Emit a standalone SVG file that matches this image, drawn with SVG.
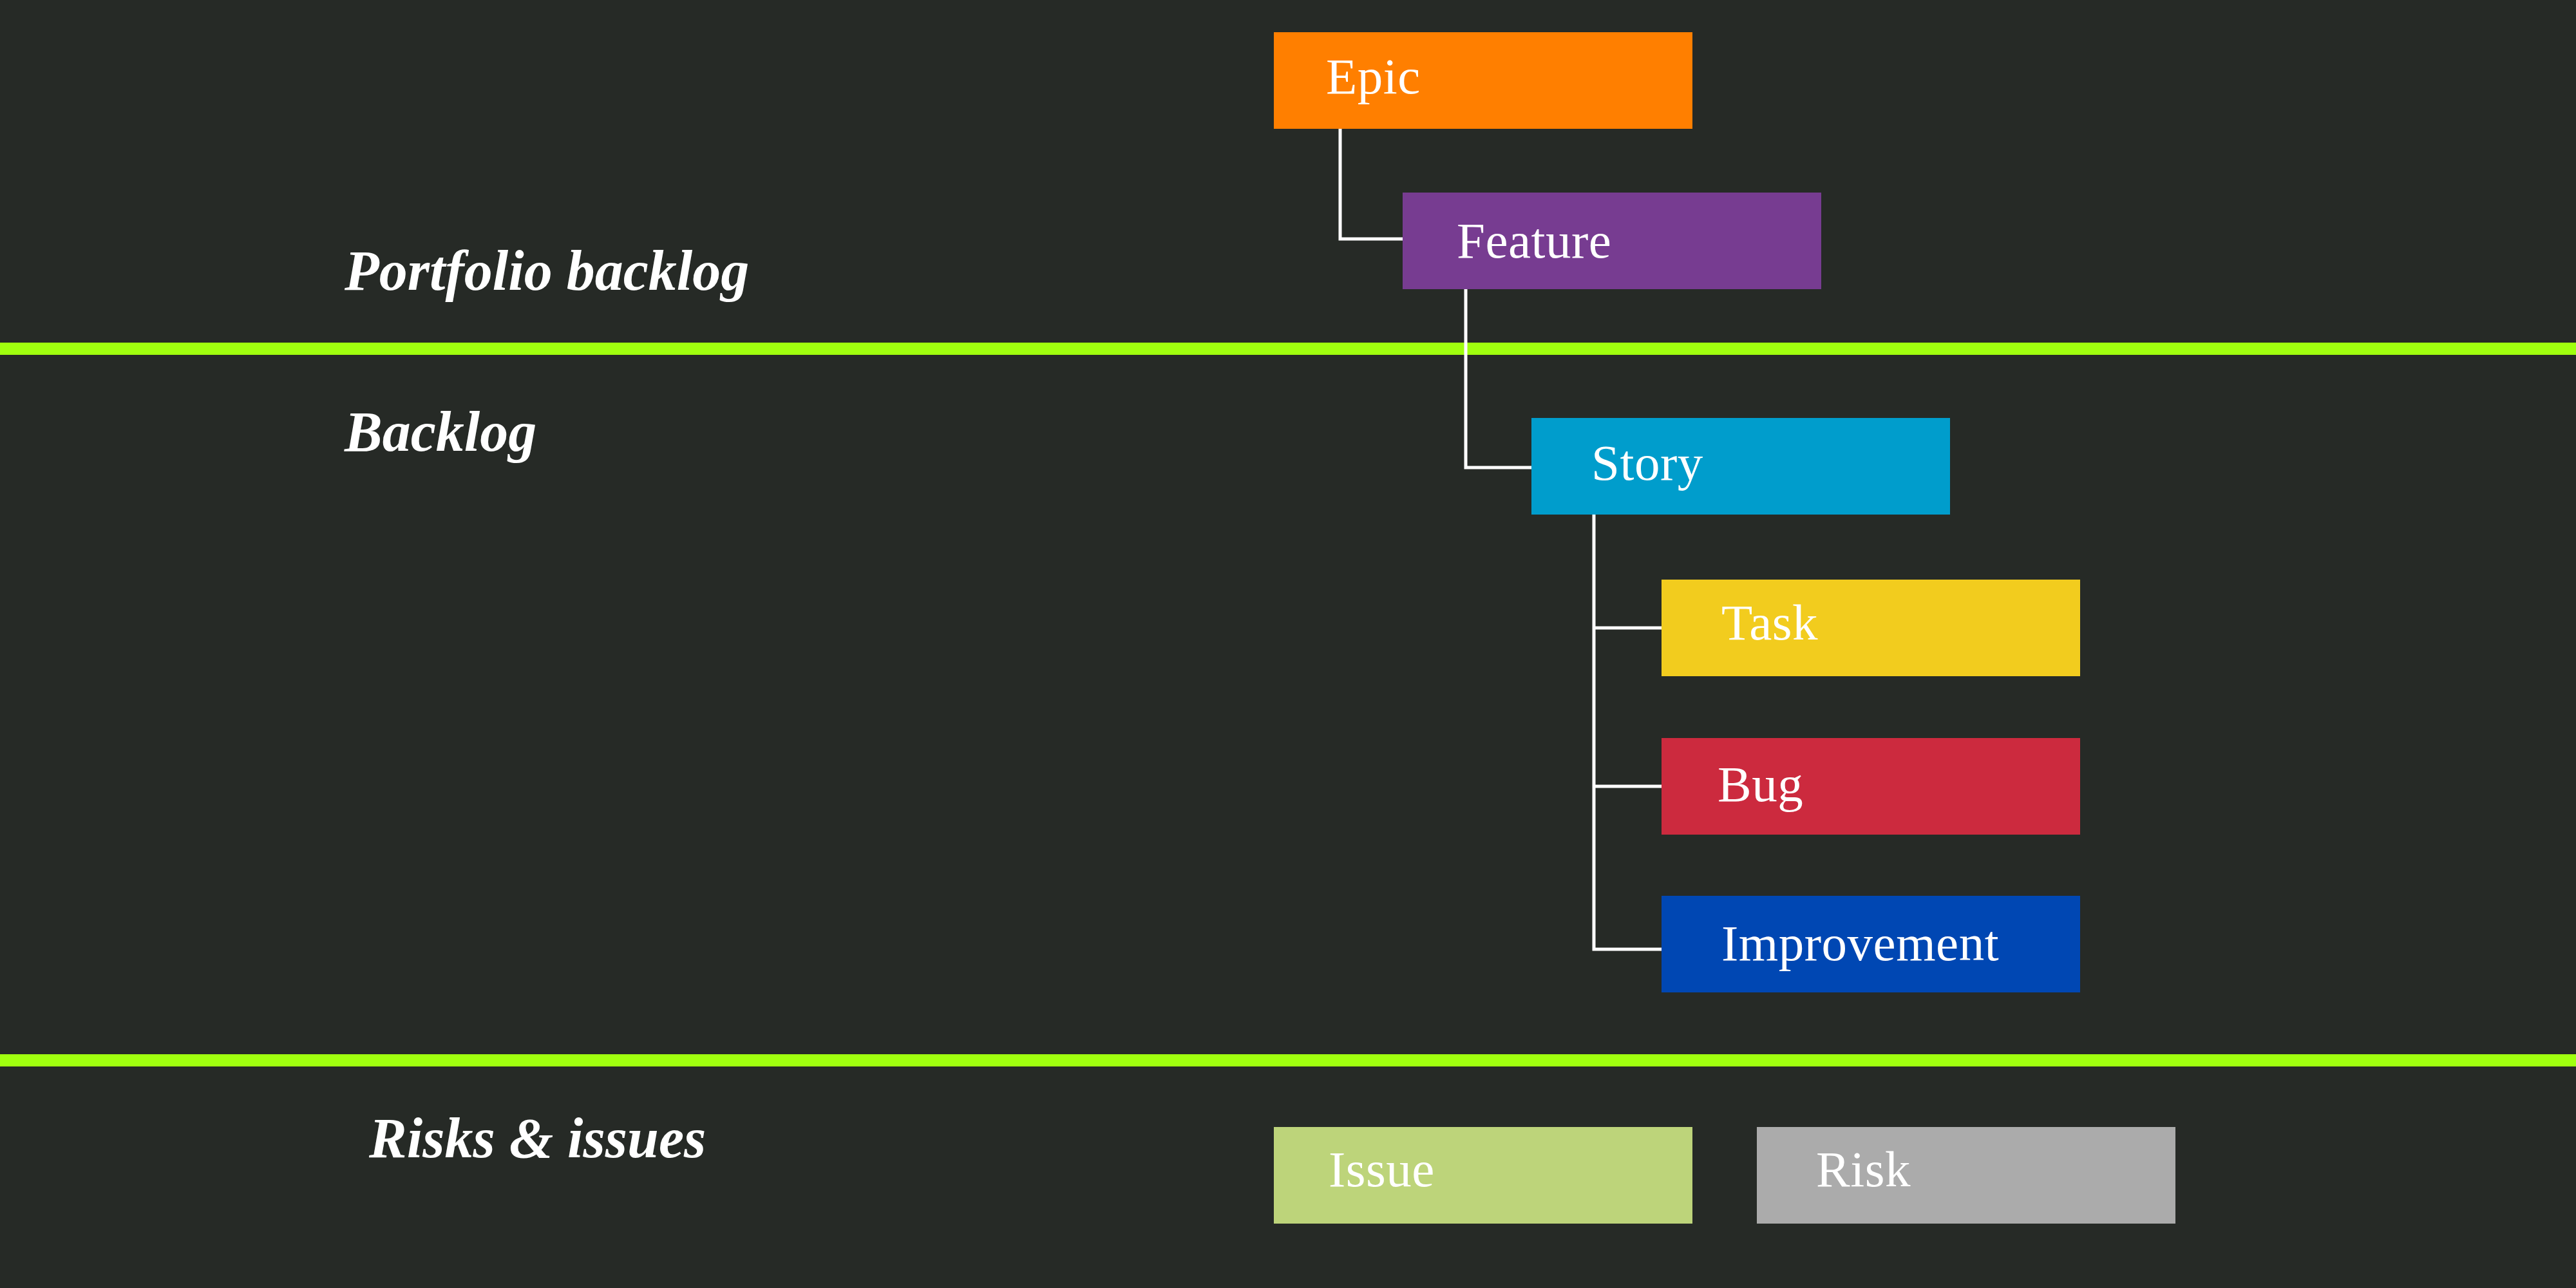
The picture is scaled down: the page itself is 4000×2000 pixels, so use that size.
<svg xmlns="http://www.w3.org/2000/svg" width="4000" height="2000" viewBox="0 0 4000 2000">
<style>
.bg{fill:#262a26}
.band{fill:#a0ff0f}
.lane{font-family:"Liberation Serif","DejaVu Serif",serif;font-style:italic;font-weight:bold;font-size:88px;fill:#ffffff}
.lbl{font-family:"Liberation Serif","DejaVu Serif",serif;font-size:79px;fill:#ffffff;letter-spacing:0.5px}
.conn{fill:none;stroke:#ffffff;stroke-width:5}
</style>
<rect class="bg" x="0" y="0" width="4000" height="2000"/>
<rect class="band" x="0" y="532" width="4000" height="19"/>
<rect class="band" x="0" y="1637" width="4000" height="19"/>
<g id="lanes">
<text class="lane" x="535" y="450">Portfolio backlog</text>
<text class="lane" x="535" y="700">Backlog</text>
<text class="lane" x="573" y="1797" font-size="90">Risks &amp; issues</text>
</g>
<g id="connectors">
<path class="conn" d="M2081 200 V371 H2178"/>
<path class="conn" d="M2276 449 V726 H2378"/>
<path class="conn" d="M2475 799 V1474 H2580"/>
<path class="conn" d="M2475 975 H2580"/>
<path class="conn" d="M2475 1221 H2580"/>
</g>
<g id="epic"><rect x="1978" y="50" width="650" height="150" fill="#ff7f00"/><text class="lbl" x="2059" y="145">Epic</text></g>
<g id="feature"><rect x="2178" y="299" width="650" height="150" fill="#773c91"/><text class="lbl" x="2262" y="400">Feature</text></g>
<g id="story"><rect x="2378" y="649" width="650" height="150" fill="#009dcc"/><text class="lbl" x="2471" y="745">Story</text></g>
<g id="task"><rect x="2580" y="900" width="650" height="150" fill="#f2cc1e"/><text class="lbl" x="2673" y="993">Task</text></g>
<g id="bug"><rect x="2580" y="1146" width="650" height="150" fill="#cc2a3e"/><text class="lbl" x="2667" y="1244">Bug</text></g>
<g id="improvement"><rect x="2580" y="1391" width="650" height="150" fill="#0047b3"/><text class="lbl" x="2673" y="1491">Improvement</text></g>
<g id="issue"><rect x="1978" y="1750" width="650" height="150" fill="#bdd47a"/><text class="lbl" x="2063" y="1842">Issue</text></g>
<g id="risk"><rect x="2728" y="1750" width="650" height="150" fill="#ababab"/><text class="lbl" x="2820" y="1842">Risk</text></g>
</svg>
